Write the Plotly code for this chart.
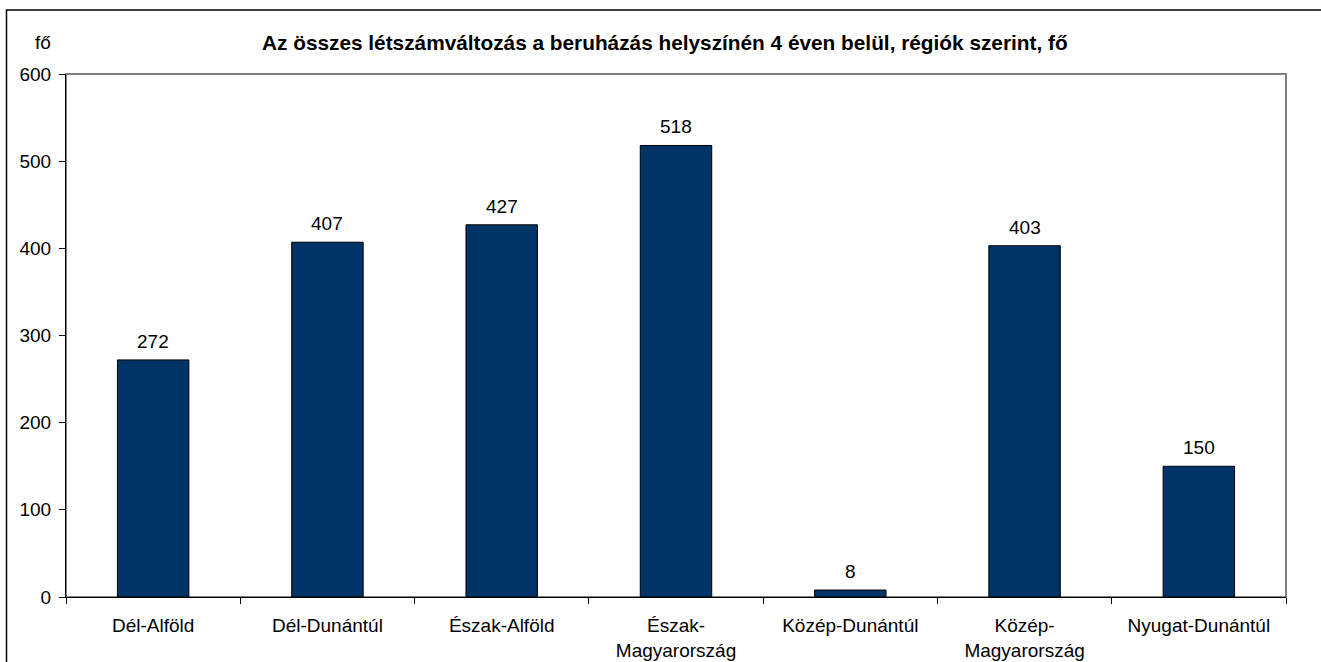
import plotly.graph_objects as go

categories = ["Dél-Alföld", "Dél-Dunántúl", "Észak-Alföld", "Észak-<br>Magyarország",
              "Közép-Dunántúl", "Közép-<br>Magyarország", "Nyugat-Dunántúl"]
values = [272, 407, 427, 518, 8, 403, 150]
y_ticks = [0, 100, 200, 300, 400, 500, 600]

title_text = "Az összes létszámváltozás a beruházás helyszínén 4 éven belül, régiók szerint, fő"
unit_text = "fő"

W, H = 1321, 662
L, R, T, B = 66, 35, 74, 65
pw, ph = W - L - R, H - T - B
FONT = "Liberation Sans, Arial, sans-serif"

fig = go.Figure()
fig.add_trace(go.Bar(
    x=categories, y=values,
    marker=dict(color="#003366", line=dict(color="black", width=1)),
    width=0.41,
    hoverinfo="x+y",
))

annotations = [
    dict(x=c, y=v, xref="x", yref="y", text=str(v), showarrow=False,
         xanchor="center", yanchor="bottom", yshift=6,
         font=dict(size=19, color="black"))
    for c, v in zip(categories, values)
]
annotations += [
    dict(text="<b>" + title_text + "</b>", xref="paper", yref="paper",
         x=(665 - L) / pw, y=1 + (T - 42) / ph, xanchor="center", yanchor="middle",
         showarrow=False, font=dict(size=20.8)),
    dict(text=unit_text, xref="paper", yref="paper",
         x=(53 - L) / pw, y=1 + (T - 42) / ph, xanchor="right", yanchor="middle",
         showarrow=False, font=dict(size=19)),
]

fig.update_layout(
    width=W, height=H,
    margin=dict(l=L, r=R, t=T, b=B, autoexpand=False),
    paper_bgcolor="white", plot_bgcolor="white",
    font=dict(family=FONT, size=19, color="black"),
    showlegend=False,
    xaxis=dict(
        showline=True, linecolor="black", linewidth=1,
        ticks="outside", ticklen=6, tickcolor="black", tickson="boundaries",
        ticklabelstandoff=11, automargin=False,
        showgrid=False, zeroline=False,
        tickfont=dict(size=19),
    ),
    yaxis=dict(
        range=[0, 600], tickvals=y_ticks,
        showline=True, linecolor="black", linewidth=1,
        ticks="outside", ticklen=6, tickcolor="black",
        ticklabelstandoff=4, automargin=False,
        showgrid=False, zeroline=False,
        tickfont=dict(size=19),
    ),
    shapes=[
        dict(type="rect", xref="paper", yref="paper", x0=0, y0=0, x1=1, y1=1,
             line=dict(color="#808080", width=2), layer="below"),
        dict(type="rect", xref="paper", yref="paper",
             x0=(6.5 - L) / pw, x1=(W + 5 - L) / pw,
             y0=-(H + 10 - (T + ph)) / ph, y1=1 + (T - 10) / ph,
             line=dict(color="black", width=1.5)),
    ],
    annotations=annotations,
)

fig.write_html("out.html", config={"displayModeBar": False},
               post_script="document.body.style.margin='0';document.body.style.overflow='hidden';")
